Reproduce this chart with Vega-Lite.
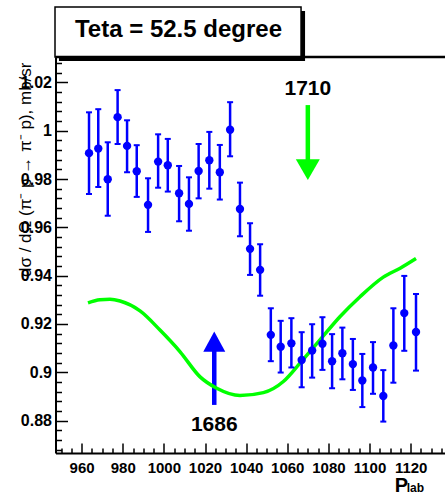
{
  "$schema": "https://vega.github.io/schema/vega-lite/v6.json",
  "width": 389.5,
  "height": 396,
  "autosize": {"type": "none"},
  "padding": {"left": 55.5, "top": 57, "right": 0, "bottom": 44},
  "config": {
    "view": {"stroke": null},
    "font": "Liberation Sans",
    "axis": {"labelOverlap": false, "grid": false, "labelFlush": false, "labelBound": false, "tickColor": "black", "domainColor": "black", "labelColor": "black", "titleColor": "black"}
  },
  "datasets": {
    "points": [
      {"p": 963.6, "v": 0.9907, "lo": 0.9738, "hi": 1.0076},
      {"p": 968.1, "v": 0.9926, "lo": 0.9767, "hi": 1.0089},
      {"p": 972.7, "v": 0.9799, "lo": 0.9648, "hi": 0.9952},
      {"p": 977.5, "v": 1.0056, "lo": 0.9945, "hi": 1.0168},
      {"p": 982.1, "v": 0.9937, "lo": 0.9828, "hi": 1.0043},
      {"p": 986.8, "v": 0.9832, "lo": 0.9726, "hi": 0.9940},
      {"p": 992.3, "v": 0.9693, "lo": 0.9581, "hi": 0.9803},
      {"p": 997.2, "v": 0.9872, "lo": 0.9764, "hi": 0.9985},
      {"p": 1001.9, "v": 0.9857, "lo": 0.9748, "hi": 0.9966},
      {"p": 1007.4, "v": 0.9741, "lo": 0.9625, "hi": 0.9854},
      {"p": 1012.2, "v": 0.9697, "lo": 0.9586, "hi": 0.9807},
      {"p": 1016.9, "v": 0.9833, "lo": 0.9720, "hi": 0.9945},
      {"p": 1022.1, "v": 0.9878, "lo": 0.9760, "hi": 0.9995},
      {"p": 1027.2, "v": 0.9828, "lo": 0.9715, "hi": 0.9941},
      {"p": 1032.2, "v": 1.0004, "lo": 0.9894, "hi": 1.0118},
      {"p": 1037.0, "v": 0.9676, "lo": 0.9563, "hi": 0.9785},
      {"p": 1041.9, "v": 0.9511, "lo": 0.9403, "hi": 0.9617},
      {"p": 1046.8, "v": 0.9424, "lo": 0.9317, "hi": 0.9530},
      {"p": 1052.0, "v": 0.9155, "lo": 0.9046, "hi": 0.9265},
      {"p": 1056.8, "v": 0.9106, "lo": 0.8999, "hi": 0.9213},
      {"p": 1062.0, "v": 0.9120, "lo": 0.9020, "hi": 0.9224},
      {"p": 1067.0, "v": 0.9051, "lo": 0.8938, "hi": 0.9166},
      {"p": 1072.1, "v": 0.9090, "lo": 0.8978, "hi": 0.9199},
      {"p": 1077.1, "v": 0.9118, "lo": 0.9010, "hi": 0.9228},
      {"p": 1081.8, "v": 0.9046, "lo": 0.8934, "hi": 0.9158},
      {"p": 1086.8, "v": 0.9079, "lo": 0.8971, "hi": 0.9185},
      {"p": 1091.9, "v": 0.9034, "lo": 0.8927, "hi": 0.9138},
      {"p": 1096.5, "v": 0.8966, "lo": 0.8856, "hi": 0.9076},
      {"p": 1101.7, "v": 0.9020, "lo": 0.8911, "hi": 0.9125},
      {"p": 1106.7, "v": 0.8902, "lo": 0.8796, "hi": 0.9009},
      {"p": 1111.6, "v": 0.9111, "lo": 0.8957, "hi": 0.9265},
      {"p": 1116.9, "v": 0.9245, "lo": 0.9089, "hi": 0.9399},
      {"p": 1122.6, "v": 0.9167, "lo": 0.9007, "hi": 0.9324}
    ],
    "curve": [
      {"p": 963.1, "v": 0.9287},
      {"p": 968.9, "v": 0.9300},
      {"p": 973.8, "v": 0.9302},
      {"p": 978.7, "v": 0.9295},
      {"p": 988.4, "v": 0.9254},
      {"p": 998.1, "v": 0.9175},
      {"p": 1007.9, "v": 0.9085},
      {"p": 1017.6, "v": 0.8981},
      {"p": 1025.7, "v": 0.8934},
      {"p": 1037.0, "v": 0.8904},
      {"p": 1048.4, "v": 0.8916},
      {"p": 1058.1, "v": 0.8962},
      {"p": 1066.2, "v": 0.9038},
      {"p": 1075.9, "v": 0.9134},
      {"p": 1085.7, "v": 0.9231},
      {"p": 1095.4, "v": 0.9313},
      {"p": 1106.7, "v": 0.9394},
      {"p": 1114.9, "v": 0.9431},
      {"p": 1122.6, "v": 0.9471}
    ],
    "blueArrow": [{"p": 1024.5, "from": 0.8865, "to": 0.9100, "head": 0.9127, "label": "1686", "ly": 0.8755}],
    "greenArrow": [{"p": 1070.0, "from": 1.0106, "to": 0.9865, "head": 0.9839, "label": "1710", "ly": 1.0148}],
    "box": [{"x1": 947.06, "x2": 1066.7, "y1": 1.0305, "y2": 1.0512, "sx1": 949.0, "sx2": 1068.65, "sy1": 1.0288, "sy2": 1.0495, "tx": 1007.1, "ty": 1.0388, "label": "Teta = 52.5 degree"}],
    "sub": [{"p": 1118.1, "v": 0.8505, "label": "lab"}],
    "frame": [{"top": 1.0305}]
  },
  "layer": [
    {
      "data": {"name": "box"},
      "mark": {"type": "rect", "color": "black"},
      "encoding": {
        "x": {"field": "sx1", "type": "quantitative", "scale": {"domain": [947.3, 1136.7], "nice": false, "zero": false},
          "axis": {"values": [950,955,960,965,970,975,980,985,990,995,1000,1005,1010,1015,1020,1025,1030,1035,1040,1045,1050,1055,1060,1065,1070,1075,1080,1085,1090,1095,1100,1105,1110,1115,1120,1125,1130,1135], "labelExpr": "datum.value % 20 == 0 ? format(datum.value, 'd') : ''", "tickSize": -10, "tickDash": {"condition": {"test": "datum.value % 20 == 0", "value": []}, "value": [5, 60]}, "tickWidth": 1.5, "domainWidth": 2, "labelFontSize": 15, "labelFontWeight": "bold", "labelPadding": 17, "title": "P", "titleFontSize": 20, "titleFontWeight": "bold", "titleX": 345.3, "titleY": 38.7, "titleAlign": "center", "titleBaseline": "alphabetic"}},
        "x2": {"field": "sx2"},
        "y": {"field": "sy1", "type": "quantitative", "scale": {"domain": [0.8666, 1.0305], "nice": false, "zero": false},
          "axis": {"values": [0.868,0.872,0.876,0.88,0.884,0.888,0.892,0.896,0.9,0.904,0.908,0.912,0.916,0.92,0.924,0.928,0.932,0.936,0.94,0.944,0.948,0.952,0.956,0.96,0.964,0.968,0.972,0.976,0.98,0.984,0.988,0.992,0.996,1,1.004,1.008,1.012,1.016,1.02,1.024,1.028], "labelExpr": "abs(datum.value * 50 - round(datum.value * 50)) < 0.01 ? format(datum.value, '~g') : ''", "tickSize": -12, "tickDash": {"condition": {"test": "abs(datum.value * 50 - round(datum.value * 50)) < 0.01", "value": []}, "value": [6, 60]}, "tickWidth": 1.5, "domainWidth": 2, "labelFontSize": 16, "labelFontWeight": "bold", "labelPadding": 16, "title": "dσ / dΩ (π⁻ p → π⁻ p), mb/sr", "titleFontSize": 17, "titleFontWeight": "normal", "titleAngle": 270, "titleX": -25.5, "titleY": 5, "titleAlign": "right", "titleBaseline": "alphabetic"}},
        "y2": {"field": "sy2"}
      }
    },
    {
      "data": {"name": "box"},
      "mark": {"type": "rect", "fill": "white", "stroke": "black", "strokeWidth": 1.5},
      "encoding": {
        "x": {"field": "x1", "type": "quantitative", "scale": {"domain": [947.3, 1136.7], "nice": false, "zero": false},
          "axis": {"values": [950,955,960,965,970,975,980,985,990,995,1000,1005,1010,1015,1020,1025,1030,1035,1040,1045,1050,1055,1060,1065,1070,1075,1080,1085,1090,1095,1100,1105,1110,1115,1120,1125,1130,1135], "labelExpr": "datum.value % 20 == 0 ? format(datum.value, 'd') : ''", "tickSize": -10, "tickDash": {"condition": {"test": "datum.value % 20 == 0", "value": []}, "value": [5, 60]}, "tickWidth": 1.5, "domainWidth": 2, "labelFontSize": 15, "labelFontWeight": "bold", "labelPadding": 17, "title": "P", "titleFontSize": 20, "titleFontWeight": "bold", "titleX": 345.3, "titleY": 38.7, "titleAlign": "center", "titleBaseline": "alphabetic"}},
        "x2": {"field": "x2"},
        "y": {"field": "y1", "type": "quantitative", "scale": {"domain": [0.8666, 1.0305], "nice": false, "zero": false},
          "axis": {"values": [0.868,0.872,0.876,0.88,0.884,0.888,0.892,0.896,0.9,0.904,0.908,0.912,0.916,0.92,0.924,0.928,0.932,0.936,0.94,0.944,0.948,0.952,0.956,0.96,0.964,0.968,0.972,0.976,0.98,0.984,0.988,0.992,0.996,1,1.004,1.008,1.012,1.016,1.02,1.024,1.028], "labelExpr": "abs(datum.value * 50 - round(datum.value * 50)) < 0.01 ? format(datum.value, '~g') : ''", "tickSize": -12, "tickDash": {"condition": {"test": "abs(datum.value * 50 - round(datum.value * 50)) < 0.01", "value": []}, "value": [6, 60]}, "tickWidth": 1.5, "domainWidth": 2, "labelFontSize": 16, "labelFontWeight": "bold", "labelPadding": 16, "title": "dσ / dΩ (π⁻ p → π⁻ p), mb/sr", "titleFontSize": 17, "titleFontWeight": "normal", "titleAngle": 270, "titleX": -25.5, "titleY": 5, "titleAlign": "right", "titleBaseline": "alphabetic"}},
        "y2": {"field": "y2"}
      }
    },
    {
      "data": {"name": "box"},
      "mark": {"type": "text", "fontSize": 24, "fontWeight": "bold", "color": "black", "align": "center", "baseline": "alphabetic"},
      "encoding": {
        "x": {"field": "tx", "type": "quantitative", "scale": {"domain": [947.3, 1136.7], "nice": false, "zero": false},
          "axis": {"values": [950,955,960,965,970,975,980,985,990,995,1000,1005,1010,1015,1020,1025,1030,1035,1040,1045,1050,1055,1060,1065,1070,1075,1080,1085,1090,1095,1100,1105,1110,1115,1120,1125,1130,1135], "labelExpr": "datum.value % 20 == 0 ? format(datum.value, 'd') : ''", "tickSize": -10, "tickDash": {"condition": {"test": "datum.value % 20 == 0", "value": []}, "value": [5, 60]}, "tickWidth": 1.5, "domainWidth": 2, "labelFontSize": 15, "labelFontWeight": "bold", "labelPadding": 17, "title": "P", "titleFontSize": 20, "titleFontWeight": "bold", "titleX": 345.3, "titleY": 38.7, "titleAlign": "center", "titleBaseline": "alphabetic"}},
        "y": {"field": "ty", "type": "quantitative", "scale": {"domain": [0.8666, 1.0305], "nice": false, "zero": false},
          "axis": {"values": [0.868,0.872,0.876,0.88,0.884,0.888,0.892,0.896,0.9,0.904,0.908,0.912,0.916,0.92,0.924,0.928,0.932,0.936,0.94,0.944,0.948,0.952,0.956,0.96,0.964,0.968,0.972,0.976,0.98,0.984,0.988,0.992,0.996,1,1.004,1.008,1.012,1.016,1.02,1.024,1.028], "labelExpr": "abs(datum.value * 50 - round(datum.value * 50)) < 0.01 ? format(datum.value, '~g') : ''", "tickSize": -12, "tickDash": {"condition": {"test": "abs(datum.value * 50 - round(datum.value * 50)) < 0.01", "value": []}, "value": [6, 60]}, "tickWidth": 1.5, "domainWidth": 2, "labelFontSize": 16, "labelFontWeight": "bold", "labelPadding": 16, "title": "dσ / dΩ (π⁻ p → π⁻ p), mb/sr", "titleFontSize": 17, "titleFontWeight": "normal", "titleAngle": 270, "titleX": -25.5, "titleY": 5, "titleAlign": "right", "titleBaseline": "alphabetic"}},
        "text": {"field": "label"}
      }
    },
    {
      "data": {"name": "blueArrow"},
      "mark": {"type": "rule", "color": "#0000ff", "strokeWidth": 4.5},
      "encoding": {
        "x": {"field": "p", "type": "quantitative", "scale": {"domain": [947.3, 1136.7], "nice": false, "zero": false},
          "axis": {"values": [950,955,960,965,970,975,980,985,990,995,1000,1005,1010,1015,1020,1025,1030,1035,1040,1045,1050,1055,1060,1065,1070,1075,1080,1085,1090,1095,1100,1105,1110,1115,1120,1125,1130,1135], "labelExpr": "datum.value % 20 == 0 ? format(datum.value, 'd') : ''", "tickSize": -10, "tickDash": {"condition": {"test": "datum.value % 20 == 0", "value": []}, "value": [5, 60]}, "tickWidth": 1.5, "domainWidth": 2, "labelFontSize": 15, "labelFontWeight": "bold", "labelPadding": 17, "title": "P", "titleFontSize": 20, "titleFontWeight": "bold", "titleX": 345.3, "titleY": 38.7, "titleAlign": "center", "titleBaseline": "alphabetic"}},
        "y": {"field": "from", "type": "quantitative", "scale": {"domain": [0.8666, 1.0305], "nice": false, "zero": false},
          "axis": {"values": [0.868,0.872,0.876,0.88,0.884,0.888,0.892,0.896,0.9,0.904,0.908,0.912,0.916,0.92,0.924,0.928,0.932,0.936,0.94,0.944,0.948,0.952,0.956,0.96,0.964,0.968,0.972,0.976,0.98,0.984,0.988,0.992,0.996,1,1.004,1.008,1.012,1.016,1.02,1.024,1.028], "labelExpr": "abs(datum.value * 50 - round(datum.value * 50)) < 0.01 ? format(datum.value, '~g') : ''", "tickSize": -12, "tickDash": {"condition": {"test": "abs(datum.value * 50 - round(datum.value * 50)) < 0.01", "value": []}, "value": [6, 60]}, "tickWidth": 1.5, "domainWidth": 2, "labelFontSize": 16, "labelFontWeight": "bold", "labelPadding": 16, "title": "dσ / dΩ (π⁻ p → π⁻ p), mb/sr", "titleFontSize": 17, "titleFontWeight": "normal", "titleAngle": 270, "titleX": -25.5, "titleY": 5, "titleAlign": "right", "titleBaseline": "alphabetic"}},
        "y2": {"field": "to"}
      }
    },
    {
      "data": {"name": "blueArrow"},
      "mark": {"type": "point", "shape": "M-1,0.91L1,0.91L0,-0.91Z", "filled": true, "color": "#0000ff", "opacity": 1, "size": 484, "strokeWidth": 0},
      "encoding": {
        "x": {"field": "p", "type": "quantitative", "scale": {"domain": [947.3, 1136.7], "nice": false, "zero": false},
          "axis": {"values": [950,955,960,965,970,975,980,985,990,995,1000,1005,1010,1015,1020,1025,1030,1035,1040,1045,1050,1055,1060,1065,1070,1075,1080,1085,1090,1095,1100,1105,1110,1115,1120,1125,1130,1135], "labelExpr": "datum.value % 20 == 0 ? format(datum.value, 'd') : ''", "tickSize": -10, "tickDash": {"condition": {"test": "datum.value % 20 == 0", "value": []}, "value": [5, 60]}, "tickWidth": 1.5, "domainWidth": 2, "labelFontSize": 15, "labelFontWeight": "bold", "labelPadding": 17, "title": "P", "titleFontSize": 20, "titleFontWeight": "bold", "titleX": 345.3, "titleY": 38.7, "titleAlign": "center", "titleBaseline": "alphabetic"}},
        "y": {"field": "head", "type": "quantitative", "scale": {"domain": [0.8666, 1.0305], "nice": false, "zero": false},
          "axis": {"values": [0.868,0.872,0.876,0.88,0.884,0.888,0.892,0.896,0.9,0.904,0.908,0.912,0.916,0.92,0.924,0.928,0.932,0.936,0.94,0.944,0.948,0.952,0.956,0.96,0.964,0.968,0.972,0.976,0.98,0.984,0.988,0.992,0.996,1,1.004,1.008,1.012,1.016,1.02,1.024,1.028], "labelExpr": "abs(datum.value * 50 - round(datum.value * 50)) < 0.01 ? format(datum.value, '~g') : ''", "tickSize": -12, "tickDash": {"condition": {"test": "abs(datum.value * 50 - round(datum.value * 50)) < 0.01", "value": []}, "value": [6, 60]}, "tickWidth": 1.5, "domainWidth": 2, "labelFontSize": 16, "labelFontWeight": "bold", "labelPadding": 16, "title": "dσ / dΩ (π⁻ p → π⁻ p), mb/sr", "titleFontSize": 17, "titleFontWeight": "normal", "titleAngle": 270, "titleX": -25.5, "titleY": 5, "titleAlign": "right", "titleBaseline": "alphabetic"}}
      }
    },
    {
      "data": {"name": "blueArrow"},
      "mark": {"type": "text", "fontSize": 21, "fontWeight": "bold", "color": "black", "align": "center", "baseline": "alphabetic"},
      "encoding": {
        "x": {"field": "p", "type": "quantitative", "scale": {"domain": [947.3, 1136.7], "nice": false, "zero": false},
          "axis": {"values": [950,955,960,965,970,975,980,985,990,995,1000,1005,1010,1015,1020,1025,1030,1035,1040,1045,1050,1055,1060,1065,1070,1075,1080,1085,1090,1095,1100,1105,1110,1115,1120,1125,1130,1135], "labelExpr": "datum.value % 20 == 0 ? format(datum.value, 'd') : ''", "tickSize": -10, "tickDash": {"condition": {"test": "datum.value % 20 == 0", "value": []}, "value": [5, 60]}, "tickWidth": 1.5, "domainWidth": 2, "labelFontSize": 15, "labelFontWeight": "bold", "labelPadding": 17, "title": "P", "titleFontSize": 20, "titleFontWeight": "bold", "titleX": 345.3, "titleY": 38.7, "titleAlign": "center", "titleBaseline": "alphabetic"}},
        "y": {"field": "ly", "type": "quantitative", "scale": {"domain": [0.8666, 1.0305], "nice": false, "zero": false},
          "axis": {"values": [0.868,0.872,0.876,0.88,0.884,0.888,0.892,0.896,0.9,0.904,0.908,0.912,0.916,0.92,0.924,0.928,0.932,0.936,0.94,0.944,0.948,0.952,0.956,0.96,0.964,0.968,0.972,0.976,0.98,0.984,0.988,0.992,0.996,1,1.004,1.008,1.012,1.016,1.02,1.024,1.028], "labelExpr": "abs(datum.value * 50 - round(datum.value * 50)) < 0.01 ? format(datum.value, '~g') : ''", "tickSize": -12, "tickDash": {"condition": {"test": "abs(datum.value * 50 - round(datum.value * 50)) < 0.01", "value": []}, "value": [6, 60]}, "tickWidth": 1.5, "domainWidth": 2, "labelFontSize": 16, "labelFontWeight": "bold", "labelPadding": 16, "title": "dσ / dΩ (π⁻ p → π⁻ p), mb/sr", "titleFontSize": 17, "titleFontWeight": "normal", "titleAngle": 270, "titleX": -25.5, "titleY": 5, "titleAlign": "right", "titleBaseline": "alphabetic"}},
        "text": {"field": "label"}
      }
    },
    {
      "data": {"name": "curve"},
      "mark": {"type": "line", "color": "#00ff00", "strokeWidth": 3.5, "interpolate": "monotone"},
      "encoding": {
        "x": {"field": "p", "type": "quantitative", "scale": {"domain": [947.3, 1136.7], "nice": false, "zero": false},
          "axis": {"values": [950,955,960,965,970,975,980,985,990,995,1000,1005,1010,1015,1020,1025,1030,1035,1040,1045,1050,1055,1060,1065,1070,1075,1080,1085,1090,1095,1100,1105,1110,1115,1120,1125,1130,1135], "labelExpr": "datum.value % 20 == 0 ? format(datum.value, 'd') : ''", "tickSize": -10, "tickDash": {"condition": {"test": "datum.value % 20 == 0", "value": []}, "value": [5, 60]}, "tickWidth": 1.5, "domainWidth": 2, "labelFontSize": 15, "labelFontWeight": "bold", "labelPadding": 17, "title": "P", "titleFontSize": 20, "titleFontWeight": "bold", "titleX": 345.3, "titleY": 38.7, "titleAlign": "center", "titleBaseline": "alphabetic"}},
        "y": {"field": "v", "type": "quantitative", "scale": {"domain": [0.8666, 1.0305], "nice": false, "zero": false},
          "axis": {"values": [0.868,0.872,0.876,0.88,0.884,0.888,0.892,0.896,0.9,0.904,0.908,0.912,0.916,0.92,0.924,0.928,0.932,0.936,0.94,0.944,0.948,0.952,0.956,0.96,0.964,0.968,0.972,0.976,0.98,0.984,0.988,0.992,0.996,1,1.004,1.008,1.012,1.016,1.02,1.024,1.028], "labelExpr": "abs(datum.value * 50 - round(datum.value * 50)) < 0.01 ? format(datum.value, '~g') : ''", "tickSize": -12, "tickDash": {"condition": {"test": "abs(datum.value * 50 - round(datum.value * 50)) < 0.01", "value": []}, "value": [6, 60]}, "tickWidth": 1.5, "domainWidth": 2, "labelFontSize": 16, "labelFontWeight": "bold", "labelPadding": 16, "title": "dσ / dΩ (π⁻ p → π⁻ p), mb/sr", "titleFontSize": 17, "titleFontWeight": "normal", "titleAngle": 270, "titleX": -25.5, "titleY": 5, "titleAlign": "right", "titleBaseline": "alphabetic"}}
      }
    },
    {
      "data": {"name": "greenArrow"},
      "mark": {"type": "rule", "color": "#00ff00", "strokeWidth": 4.5},
      "encoding": {
        "x": {"field": "p", "type": "quantitative", "scale": {"domain": [947.3, 1136.7], "nice": false, "zero": false},
          "axis": {"values": [950,955,960,965,970,975,980,985,990,995,1000,1005,1010,1015,1020,1025,1030,1035,1040,1045,1050,1055,1060,1065,1070,1075,1080,1085,1090,1095,1100,1105,1110,1115,1120,1125,1130,1135], "labelExpr": "datum.value % 20 == 0 ? format(datum.value, 'd') : ''", "tickSize": -10, "tickDash": {"condition": {"test": "datum.value % 20 == 0", "value": []}, "value": [5, 60]}, "tickWidth": 1.5, "domainWidth": 2, "labelFontSize": 15, "labelFontWeight": "bold", "labelPadding": 17, "title": "P", "titleFontSize": 20, "titleFontWeight": "bold", "titleX": 345.3, "titleY": 38.7, "titleAlign": "center", "titleBaseline": "alphabetic"}},
        "y": {"field": "from", "type": "quantitative", "scale": {"domain": [0.8666, 1.0305], "nice": false, "zero": false},
          "axis": {"values": [0.868,0.872,0.876,0.88,0.884,0.888,0.892,0.896,0.9,0.904,0.908,0.912,0.916,0.92,0.924,0.928,0.932,0.936,0.94,0.944,0.948,0.952,0.956,0.96,0.964,0.968,0.972,0.976,0.98,0.984,0.988,0.992,0.996,1,1.004,1.008,1.012,1.016,1.02,1.024,1.028], "labelExpr": "abs(datum.value * 50 - round(datum.value * 50)) < 0.01 ? format(datum.value, '~g') : ''", "tickSize": -12, "tickDash": {"condition": {"test": "abs(datum.value * 50 - round(datum.value * 50)) < 0.01", "value": []}, "value": [6, 60]}, "tickWidth": 1.5, "domainWidth": 2, "labelFontSize": 16, "labelFontWeight": "bold", "labelPadding": 16, "title": "dσ / dΩ (π⁻ p → π⁻ p), mb/sr", "titleFontSize": 17, "titleFontWeight": "normal", "titleAngle": 270, "titleX": -25.5, "titleY": 5, "titleAlign": "right", "titleBaseline": "alphabetic"}},
        "y2": {"field": "to"}
      }
    },
    {
      "data": {"name": "greenArrow"},
      "mark": {"type": "point", "shape": "M-1,-0.86L1,-0.86L0,0.86Z", "filled": true, "color": "#00ff00", "opacity": 1, "size": 576, "strokeWidth": 0},
      "encoding": {
        "x": {"field": "p", "type": "quantitative", "scale": {"domain": [947.3, 1136.7], "nice": false, "zero": false},
          "axis": {"values": [950,955,960,965,970,975,980,985,990,995,1000,1005,1010,1015,1020,1025,1030,1035,1040,1045,1050,1055,1060,1065,1070,1075,1080,1085,1090,1095,1100,1105,1110,1115,1120,1125,1130,1135], "labelExpr": "datum.value % 20 == 0 ? format(datum.value, 'd') : ''", "tickSize": -10, "tickDash": {"condition": {"test": "datum.value % 20 == 0", "value": []}, "value": [5, 60]}, "tickWidth": 1.5, "domainWidth": 2, "labelFontSize": 15, "labelFontWeight": "bold", "labelPadding": 17, "title": "P", "titleFontSize": 20, "titleFontWeight": "bold", "titleX": 345.3, "titleY": 38.7, "titleAlign": "center", "titleBaseline": "alphabetic"}},
        "y": {"field": "head", "type": "quantitative", "scale": {"domain": [0.8666, 1.0305], "nice": false, "zero": false},
          "axis": {"values": [0.868,0.872,0.876,0.88,0.884,0.888,0.892,0.896,0.9,0.904,0.908,0.912,0.916,0.92,0.924,0.928,0.932,0.936,0.94,0.944,0.948,0.952,0.956,0.96,0.964,0.968,0.972,0.976,0.98,0.984,0.988,0.992,0.996,1,1.004,1.008,1.012,1.016,1.02,1.024,1.028], "labelExpr": "abs(datum.value * 50 - round(datum.value * 50)) < 0.01 ? format(datum.value, '~g') : ''", "tickSize": -12, "tickDash": {"condition": {"test": "abs(datum.value * 50 - round(datum.value * 50)) < 0.01", "value": []}, "value": [6, 60]}, "tickWidth": 1.5, "domainWidth": 2, "labelFontSize": 16, "labelFontWeight": "bold", "labelPadding": 16, "title": "dσ / dΩ (π⁻ p → π⁻ p), mb/sr", "titleFontSize": 17, "titleFontWeight": "normal", "titleAngle": 270, "titleX": -25.5, "titleY": 5, "titleAlign": "right", "titleBaseline": "alphabetic"}}
      }
    },
    {
      "data": {"name": "greenArrow"},
      "mark": {"type": "text", "fontSize": 21, "fontWeight": "bold", "color": "black", "align": "center", "baseline": "alphabetic"},
      "encoding": {
        "x": {"field": "p", "type": "quantitative", "scale": {"domain": [947.3, 1136.7], "nice": false, "zero": false},
          "axis": {"values": [950,955,960,965,970,975,980,985,990,995,1000,1005,1010,1015,1020,1025,1030,1035,1040,1045,1050,1055,1060,1065,1070,1075,1080,1085,1090,1095,1100,1105,1110,1115,1120,1125,1130,1135], "labelExpr": "datum.value % 20 == 0 ? format(datum.value, 'd') : ''", "tickSize": -10, "tickDash": {"condition": {"test": "datum.value % 20 == 0", "value": []}, "value": [5, 60]}, "tickWidth": 1.5, "domainWidth": 2, "labelFontSize": 15, "labelFontWeight": "bold", "labelPadding": 17, "title": "P", "titleFontSize": 20, "titleFontWeight": "bold", "titleX": 345.3, "titleY": 38.7, "titleAlign": "center", "titleBaseline": "alphabetic"}},
        "y": {"field": "ly", "type": "quantitative", "scale": {"domain": [0.8666, 1.0305], "nice": false, "zero": false},
          "axis": {"values": [0.868,0.872,0.876,0.88,0.884,0.888,0.892,0.896,0.9,0.904,0.908,0.912,0.916,0.92,0.924,0.928,0.932,0.936,0.94,0.944,0.948,0.952,0.956,0.96,0.964,0.968,0.972,0.976,0.98,0.984,0.988,0.992,0.996,1,1.004,1.008,1.012,1.016,1.02,1.024,1.028], "labelExpr": "abs(datum.value * 50 - round(datum.value * 50)) < 0.01 ? format(datum.value, '~g') : ''", "tickSize": -12, "tickDash": {"condition": {"test": "abs(datum.value * 50 - round(datum.value * 50)) < 0.01", "value": []}, "value": [6, 60]}, "tickWidth": 1.5, "domainWidth": 2, "labelFontSize": 16, "labelFontWeight": "bold", "labelPadding": 16, "title": "dσ / dΩ (π⁻ p → π⁻ p), mb/sr", "titleFontSize": 17, "titleFontWeight": "normal", "titleAngle": 270, "titleX": -25.5, "titleY": 5, "titleAlign": "right", "titleBaseline": "alphabetic"}},
        "text": {"field": "label"}
      }
    },
    {
      "data": {"name": "points"},
      "mark": {"type": "rule", "color": "#0000ff", "strokeWidth": 2.5},
      "encoding": {
        "x": {"field": "p", "type": "quantitative", "scale": {"domain": [947.3, 1136.7], "nice": false, "zero": false},
          "axis": {"values": [950,955,960,965,970,975,980,985,990,995,1000,1005,1010,1015,1020,1025,1030,1035,1040,1045,1050,1055,1060,1065,1070,1075,1080,1085,1090,1095,1100,1105,1110,1115,1120,1125,1130,1135], "labelExpr": "datum.value % 20 == 0 ? format(datum.value, 'd') : ''", "tickSize": -10, "tickDash": {"condition": {"test": "datum.value % 20 == 0", "value": []}, "value": [5, 60]}, "tickWidth": 1.5, "domainWidth": 2, "labelFontSize": 15, "labelFontWeight": "bold", "labelPadding": 17, "title": "P", "titleFontSize": 20, "titleFontWeight": "bold", "titleX": 345.3, "titleY": 38.7, "titleAlign": "center", "titleBaseline": "alphabetic"}},
        "y": {"field": "lo", "type": "quantitative", "scale": {"domain": [0.8666, 1.0305], "nice": false, "zero": false},
          "axis": {"values": [0.868,0.872,0.876,0.88,0.884,0.888,0.892,0.896,0.9,0.904,0.908,0.912,0.916,0.92,0.924,0.928,0.932,0.936,0.94,0.944,0.948,0.952,0.956,0.96,0.964,0.968,0.972,0.976,0.98,0.984,0.988,0.992,0.996,1,1.004,1.008,1.012,1.016,1.02,1.024,1.028], "labelExpr": "abs(datum.value * 50 - round(datum.value * 50)) < 0.01 ? format(datum.value, '~g') : ''", "tickSize": -12, "tickDash": {"condition": {"test": "abs(datum.value * 50 - round(datum.value * 50)) < 0.01", "value": []}, "value": [6, 60]}, "tickWidth": 1.5, "domainWidth": 2, "labelFontSize": 16, "labelFontWeight": "bold", "labelPadding": 16, "title": "dσ / dΩ (π⁻ p → π⁻ p), mb/sr", "titleFontSize": 17, "titleFontWeight": "normal", "titleAngle": 270, "titleX": -25.5, "titleY": 5, "titleAlign": "right", "titleBaseline": "alphabetic"}},
        "y2": {"field": "hi"}
      }
    },
    {
      "data": {"name": "points"},
      "mark": {"type": "tick", "orient": "horizontal", "color": "#0000ff", "size": 6, "thickness": 2, "opacity": 1},
      "encoding": {
        "x": {"field": "p", "type": "quantitative", "scale": {"domain": [947.3, 1136.7], "nice": false, "zero": false},
          "axis": {"values": [950,955,960,965,970,975,980,985,990,995,1000,1005,1010,1015,1020,1025,1030,1035,1040,1045,1050,1055,1060,1065,1070,1075,1080,1085,1090,1095,1100,1105,1110,1115,1120,1125,1130,1135], "labelExpr": "datum.value % 20 == 0 ? format(datum.value, 'd') : ''", "tickSize": -10, "tickDash": {"condition": {"test": "datum.value % 20 == 0", "value": []}, "value": [5, 60]}, "tickWidth": 1.5, "domainWidth": 2, "labelFontSize": 15, "labelFontWeight": "bold", "labelPadding": 17, "title": "P", "titleFontSize": 20, "titleFontWeight": "bold", "titleX": 345.3, "titleY": 38.7, "titleAlign": "center", "titleBaseline": "alphabetic"}},
        "y": {"field": "lo", "type": "quantitative", "scale": {"domain": [0.8666, 1.0305], "nice": false, "zero": false},
          "axis": {"values": [0.868,0.872,0.876,0.88,0.884,0.888,0.892,0.896,0.9,0.904,0.908,0.912,0.916,0.92,0.924,0.928,0.932,0.936,0.94,0.944,0.948,0.952,0.956,0.96,0.964,0.968,0.972,0.976,0.98,0.984,0.988,0.992,0.996,1,1.004,1.008,1.012,1.016,1.02,1.024,1.028], "labelExpr": "abs(datum.value * 50 - round(datum.value * 50)) < 0.01 ? format(datum.value, '~g') : ''", "tickSize": -12, "tickDash": {"condition": {"test": "abs(datum.value * 50 - round(datum.value * 50)) < 0.01", "value": []}, "value": [6, 60]}, "tickWidth": 1.5, "domainWidth": 2, "labelFontSize": 16, "labelFontWeight": "bold", "labelPadding": 16, "title": "dσ / dΩ (π⁻ p → π⁻ p), mb/sr", "titleFontSize": 17, "titleFontWeight": "normal", "titleAngle": 270, "titleX": -25.5, "titleY": 5, "titleAlign": "right", "titleBaseline": "alphabetic"}}
      }
    },
    {
      "data": {"name": "points"},
      "mark": {"type": "tick", "orient": "horizontal", "color": "#0000ff", "size": 6, "thickness": 2, "opacity": 1},
      "encoding": {
        "x": {"field": "p", "type": "quantitative", "scale": {"domain": [947.3, 1136.7], "nice": false, "zero": false},
          "axis": {"values": [950,955,960,965,970,975,980,985,990,995,1000,1005,1010,1015,1020,1025,1030,1035,1040,1045,1050,1055,1060,1065,1070,1075,1080,1085,1090,1095,1100,1105,1110,1115,1120,1125,1130,1135], "labelExpr": "datum.value % 20 == 0 ? format(datum.value, 'd') : ''", "tickSize": -10, "tickDash": {"condition": {"test": "datum.value % 20 == 0", "value": []}, "value": [5, 60]}, "tickWidth": 1.5, "domainWidth": 2, "labelFontSize": 15, "labelFontWeight": "bold", "labelPadding": 17, "title": "P", "titleFontSize": 20, "titleFontWeight": "bold", "titleX": 345.3, "titleY": 38.7, "titleAlign": "center", "titleBaseline": "alphabetic"}},
        "y": {"field": "hi", "type": "quantitative", "scale": {"domain": [0.8666, 1.0305], "nice": false, "zero": false},
          "axis": {"values": [0.868,0.872,0.876,0.88,0.884,0.888,0.892,0.896,0.9,0.904,0.908,0.912,0.916,0.92,0.924,0.928,0.932,0.936,0.94,0.944,0.948,0.952,0.956,0.96,0.964,0.968,0.972,0.976,0.98,0.984,0.988,0.992,0.996,1,1.004,1.008,1.012,1.016,1.02,1.024,1.028], "labelExpr": "abs(datum.value * 50 - round(datum.value * 50)) < 0.01 ? format(datum.value, '~g') : ''", "tickSize": -12, "tickDash": {"condition": {"test": "abs(datum.value * 50 - round(datum.value * 50)) < 0.01", "value": []}, "value": [6, 60]}, "tickWidth": 1.5, "domainWidth": 2, "labelFontSize": 16, "labelFontWeight": "bold", "labelPadding": 16, "title": "dσ / dΩ (π⁻ p → π⁻ p), mb/sr", "titleFontSize": 17, "titleFontWeight": "normal", "titleAngle": 270, "titleX": -25.5, "titleY": 5, "titleAlign": "right", "titleBaseline": "alphabetic"}}
      }
    },
    {
      "data": {"name": "sub"},
      "mark": {"type": "text", "fontSize": 12, "fontWeight": "bold", "color": "black", "align": "left", "baseline": "alphabetic"},
      "encoding": {
        "x": {"field": "p", "type": "quantitative", "scale": {"domain": [947.3, 1136.7], "nice": false, "zero": false},
          "axis": {"values": [950,955,960,965,970,975,980,985,990,995,1000,1005,1010,1015,1020,1025,1030,1035,1040,1045,1050,1055,1060,1065,1070,1075,1080,1085,1090,1095,1100,1105,1110,1115,1120,1125,1130,1135], "labelExpr": "datum.value % 20 == 0 ? format(datum.value, 'd') : ''", "tickSize": -10, "tickDash": {"condition": {"test": "datum.value % 20 == 0", "value": []}, "value": [5, 60]}, "tickWidth": 1.5, "domainWidth": 2, "labelFontSize": 15, "labelFontWeight": "bold", "labelPadding": 17, "title": "P", "titleFontSize": 20, "titleFontWeight": "bold", "titleX": 345.3, "titleY": 38.7, "titleAlign": "center", "titleBaseline": "alphabetic"}},
        "y": {"field": "v", "type": "quantitative", "scale": {"domain": [0.8666, 1.0305], "nice": false, "zero": false},
          "axis": {"values": [0.868,0.872,0.876,0.88,0.884,0.888,0.892,0.896,0.9,0.904,0.908,0.912,0.916,0.92,0.924,0.928,0.932,0.936,0.94,0.944,0.948,0.952,0.956,0.96,0.964,0.968,0.972,0.976,0.98,0.984,0.988,0.992,0.996,1,1.004,1.008,1.012,1.016,1.02,1.024,1.028], "labelExpr": "abs(datum.value * 50 - round(datum.value * 50)) < 0.01 ? format(datum.value, '~g') : ''", "tickSize": -12, "tickDash": {"condition": {"test": "abs(datum.value * 50 - round(datum.value * 50)) < 0.01", "value": []}, "value": [6, 60]}, "tickWidth": 1.5, "domainWidth": 2, "labelFontSize": 16, "labelFontWeight": "bold", "labelPadding": 16, "title": "dσ / dΩ (π⁻ p → π⁻ p), mb/sr", "titleFontSize": 17, "titleFontWeight": "normal", "titleAngle": 270, "titleX": -25.5, "titleY": 5, "titleAlign": "right", "titleBaseline": "alphabetic"}},
        "text": {"field": "label"}
      }
    },
    {
      "data": {"name": "points"},
      "mark": {"type": "point", "shape": "circle", "filled": true, "color": "#0000ff", "opacity": 1, "size": 70},
      "encoding": {
        "x": {"field": "p", "type": "quantitative", "scale": {"domain": [947.3, 1136.7], "nice": false, "zero": false},
          "axis": {"values": [950,955,960,965,970,975,980,985,990,995,1000,1005,1010,1015,1020,1025,1030,1035,1040,1045,1050,1055,1060,1065,1070,1075,1080,1085,1090,1095,1100,1105,1110,1115,1120,1125,1130,1135], "labelExpr": "datum.value % 20 == 0 ? format(datum.value, 'd') : ''", "tickSize": -10, "tickDash": {"condition": {"test": "datum.value % 20 == 0", "value": []}, "value": [5, 60]}, "tickWidth": 1.5, "domainWidth": 2, "labelFontSize": 15, "labelFontWeight": "bold", "labelPadding": 17, "title": "P", "titleFontSize": 20, "titleFontWeight": "bold", "titleX": 345.3, "titleY": 38.7, "titleAlign": "center", "titleBaseline": "alphabetic"}},
        "y": {"field": "v", "type": "quantitative", "scale": {"domain": [0.8666, 1.0305], "nice": false, "zero": false},
          "axis": {"values": [0.868,0.872,0.876,0.88,0.884,0.888,0.892,0.896,0.9,0.904,0.908,0.912,0.916,0.92,0.924,0.928,0.932,0.936,0.94,0.944,0.948,0.952,0.956,0.96,0.964,0.968,0.972,0.976,0.98,0.984,0.988,0.992,0.996,1,1.004,1.008,1.012,1.016,1.02,1.024,1.028], "labelExpr": "abs(datum.value * 50 - round(datum.value * 50)) < 0.01 ? format(datum.value, '~g') : ''", "tickSize": -12, "tickDash": {"condition": {"test": "abs(datum.value * 50 - round(datum.value * 50)) < 0.01", "value": []}, "value": [6, 60]}, "tickWidth": 1.5, "domainWidth": 2, "labelFontSize": 16, "labelFontWeight": "bold", "labelPadding": 16, "title": "dσ / dΩ (π⁻ p → π⁻ p), mb/sr", "titleFontSize": 17, "titleFontWeight": "normal", "titleAngle": 270, "titleX": -25.5, "titleY": 5, "titleAlign": "right", "titleBaseline": "alphabetic"}}
      }
    },
    {
      "data": {"name": "frame"},
      "mark": {"type": "rule", "color": "black", "strokeWidth": 2.5},
      "encoding": {
        "y": {"field": "top", "type": "quantitative", "scale": {"domain": [0.8666, 1.0305], "nice": false, "zero": false},
          "axis": {"values": [0.868,0.872,0.876,0.88,0.884,0.888,0.892,0.896,0.9,0.904,0.908,0.912,0.916,0.92,0.924,0.928,0.932,0.936,0.94,0.944,0.948,0.952,0.956,0.96,0.964,0.968,0.972,0.976,0.98,0.984,0.988,0.992,0.996,1,1.004,1.008,1.012,1.016,1.02,1.024,1.028], "labelExpr": "abs(datum.value * 50 - round(datum.value * 50)) < 0.01 ? format(datum.value, '~g') : ''", "tickSize": -12, "tickDash": {"condition": {"test": "abs(datum.value * 50 - round(datum.value * 50)) < 0.01", "value": []}, "value": [6, 60]}, "tickWidth": 1.5, "domainWidth": 2, "labelFontSize": 16, "labelFontWeight": "bold", "labelPadding": 16, "title": "dσ / dΩ (π⁻ p → π⁻ p), mb/sr", "titleFontSize": 17, "titleFontWeight": "normal", "titleAngle": 270, "titleX": -25.5, "titleY": 5, "titleAlign": "right", "titleBaseline": "alphabetic"}}
      }
    }
  ]
}
